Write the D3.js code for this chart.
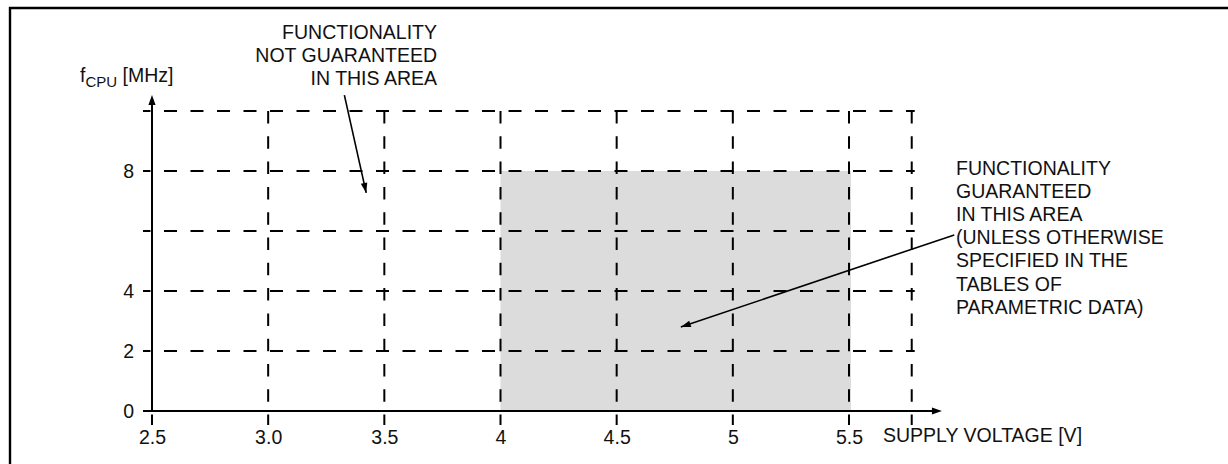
<!DOCTYPE html>
<html>
<head>
<meta charset="utf-8">
<script src="https://cdn.jsdelivr.net/npm/d3@7"></script>
<style>
  html, body { margin: 0; padding: 0; background: #fff; }
  svg { display: block; }
  text { font-family: "Liberation Sans", Arial, sans-serif; fill: #111; }
</style>
</head>
<body>
<svg id="chart" width="1228" height="464"></svg>
<script>
// ---- data ----
const xTicks = [2.5, 3.0, 3.5, 4, 4.5, 5, 5.5];
const xTickLabels = ["2.5", "3.0", "3.5", "4", "4.5", "5", "5.5"];
const xGrid = [2.5, 3.0, 3.5, 4, 4.5, 5, 5.5, 5.77];
const yTicks = [0, 2, 4, 8];
const yTickLabels = ["0", "2", "4", "8"];
const yGrid = [2, 4, 6, 8, 10];
const guaranteedVoltage = [4, 5.5];   // V
const guaranteedFreq = [0, 8];        // MHz
const noteLeftLines = ["FUNCTIONALITY", "NOT GUARANTEED", "IN THIS AREA"];
const noteRightLines = ["FUNCTIONALITY", "GUARANTEED", "IN THIS AREA", "(UNLESS OTHERWISE",
  "SPECIFIED IN THE", "TABLES OF", "PARAMETRIC DATA)"];
const noteLeftArrow = [[3.328, 10.53], [3.422, 7.27]];   // [V, MHz] from -> to
const noteRightArrow = [[5.953, 5.87], [4.776, 2.8]];
const xAxisTitle = "SUPPLY VOLTAGE [V]";
const yAxisTitle = ["f", "CPU", " [MHz]"];

// ---- scales ----
const x = d3.scaleLinear().domain([2.5, 5.5]).range([152, 849]);
const y = d3.scaleLinear().domain([0, 8]).range([411, 171]);

const svg = d3.select("#chart");
const FS = 19.5;

// frame (left and top border)
svg.append("path")
  .attr("d", "M10,464 V8 H1228")
  .attr("fill", "none").attr("stroke", "#000").attr("stroke-width", 2.4);

// gray guaranteed area
svg.append("rect")
  .attr("x", x(guaranteedVoltage[0]))
  .attr("y", y(guaranteedFreq[1]))
  .attr("width", x(guaranteedVoltage[1]) - x(guaranteedVoltage[0]) + 2)
  .attr("height", y(guaranteedFreq[0]) - y(guaranteedFreq[1]))
  .attr("fill", "#dcdcdc");

const gridTop = y(d3.max(yGrid));
const gridLeft = x(2.5) - 9;
const gridRight = x(d3.max(xGrid)) + 3;
const gridBottom = y(0) + 14;

// horizontal dashed grid
svg.append("g").selectAll("line").data(yGrid).join("line")
  .attr("x1", gridLeft).attr("x2", gridRight)
  .attr("y1", d => y(d)).attr("y2", d => y(d))
  .attr("stroke", "#000").attr("stroke-width", 2)
  .attr("stroke-dasharray", "13 13.5")
  .attr("stroke-dashoffset", 5.5);

// vertical dashed grid
svg.append("g").selectAll("line").data(xGrid).join("line")
  .attr("x1", d => x(d)).attr("x2", d => x(d))
  .attr("y1", gridTop).attr("y2", gridBottom)
  .attr("stroke", "#000").attr("stroke-width", 2)
  .attr("stroke-dasharray", "12.5 12.8");

// axes lines with arrows
const axisColor = "#000";
// y axis
svg.append("line")
  .attr("x1", x(2.5)).attr("x2", x(2.5))
  .attr("y1", y(0)).attr("y2", y(10.5) + 8)
  .attr("stroke", axisColor).attr("stroke-width", 2);
// x axis
svg.append("line")
  .attr("x1", gridLeft).attr("x2", x(5.9) - 8)
  .attr("y1", y(0)).attr("y2", y(0))
  .attr("stroke", axisColor).attr("stroke-width", 2);

function arrowHead(tip, from, len, half) {
  const dx = tip[0] - from[0], dy = tip[1] - from[1];
  const L = Math.hypot(dx, dy);
  const ux = dx / L, uy = dy / L;
  const bx = tip[0] - ux * len, by = tip[1] - uy * len;
  return `M${tip[0]},${tip[1]} L${bx - uy * half},${by + ux * half} L${bx + uy * half},${by - ux * half} Z`;
}
// y axis arrow head
svg.append("path")
  .attr("d", arrowHead([x(2.5), y(10.53)], [x(2.5), y(0)], 10, 3.6))
  .attr("fill", "#000");
// x axis arrow head
svg.append("path")
  .attr("d", arrowHead([x(5.9), y(0)], [x(2.5), y(0)], 10, 3.6))
  .attr("fill", "#000");

// tick labels via d3 axes
const xAxis = d3.axisBottom(x).tickValues(xTicks)
  .tickFormat((d, i) => xTickLabels[i]).tickSize(0).tickPadding(19);
const gx = svg.append("g").attr("transform", `translate(0,${y(0)})`).call(xAxis);
gx.select(".domain").remove();
gx.selectAll("text").attr("font-size", FS).style("font-family", "Liberation Sans, Arial, sans-serif").attr("fill", "#111");

const yAxis = d3.axisLeft(y).tickValues(yTicks)
  .tickFormat((d, i) => yTickLabels[i]).tickSize(0).tickPadding(18);
const gy = svg.append("g").attr("transform", `translate(${x(2.5)},0)`).call(yAxis);
gy.select(".domain").remove();
gy.selectAll("text").attr("font-size", FS).style("font-family", "Liberation Sans, Arial, sans-serif").attr("fill", "#111");

// axis titles
svg.append("text")
  .attr("x", 883).attr("y", 442)
  .attr("font-size", FS)
  .text(xAxisTitle);

const yt = svg.append("text").attr("x", 80).attr("y", 82).attr("font-size", FS);
yt.append("tspan").text(yAxisTitle[0]);
yt.append("tspan").attr("font-size", 15).attr("dy", 5).text(yAxisTitle[1]);
yt.append("tspan").attr("dy", -5).text(yAxisTitle[2]);

// notes
svg.append("text")
  .attr("text-anchor", "end").attr("font-size", FS)
  .selectAll("tspan").data(noteLeftLines).join("tspan")
  .attr("x", 437).attr("y", (d, i) => 39 + i * 23)
  .text(d => d);

svg.append("text")
  .attr("font-size", FS)
  .selectAll("tspan").data(noteRightLines).join("tspan")
  .attr("x", 956).attr("y", (d, i) => 175 + i * 23.1)
  .text(d => d);

// annotation arrows
function drawArrow(pts) {
  const from = [x(pts[0][0]), y(pts[0][1])];
  const tip = [x(pts[1][0]), y(pts[1][1])];
  svg.append("line")
    .attr("x1", from[0]).attr("y1", from[1])
    .attr("x2", tip[0]).attr("y2", tip[1])
    .attr("stroke", "#000").attr("stroke-width", 1.6);
  svg.append("path").attr("d", arrowHead(tip, from, 10, 3.3)).attr("fill", "#000");
}
drawArrow(noteLeftArrow);
drawArrow(noteRightArrow);
</script>
</body>
</html>
